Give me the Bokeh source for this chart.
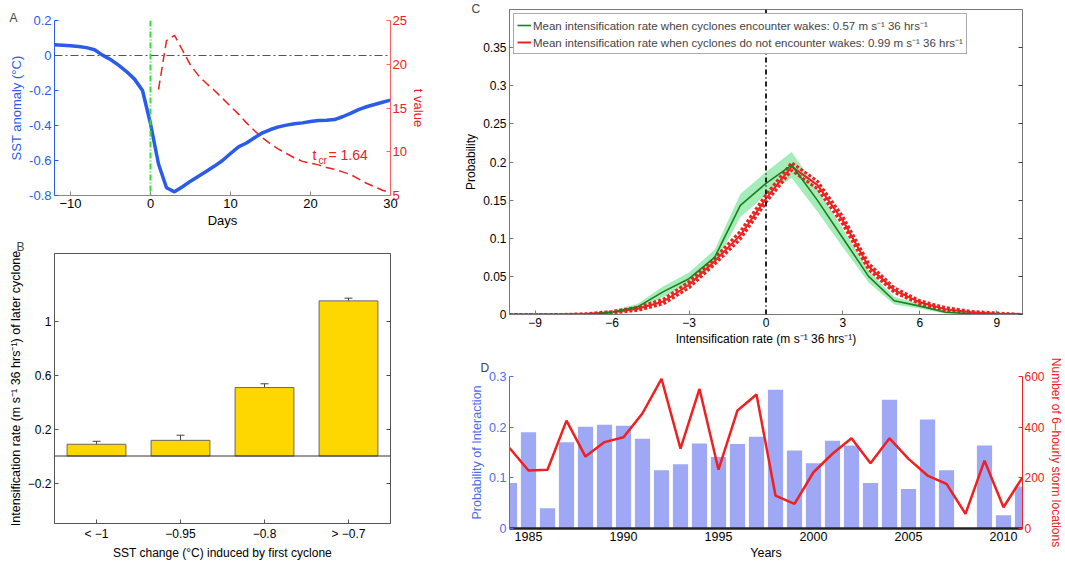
from bokeh.plotting import figure
from bokeh.models import (LinearAxis, Range1d, FixedTicker, CustomJSTickFormatter,
                          Label, Whisker, ColumnDataSource, Legend, LegendItem, Span, TeeHead)
from bokeh.layouts import row, column
from bokeh.embed import file_html
from bokeh.resources import INLINE

# ---------------- data ----------------
# Panel A
a_days = list(range(-12, 31))
a_sst = [0.062, 0.059, 0.056, 0.051, 0.045, 0.033, 0.002, -0.023, -0.055, -0.092,
         -0.135, -0.2, -0.39, -0.62, -0.756, -0.779, -0.75, -0.718, -0.69, -0.661,
         -0.632, -0.6, -0.56, -0.522, -0.5, -0.47, -0.442, -0.423, -0.408, -0.398,
         -0.39, -0.385, -0.377, -0.371, -0.37, -0.366, -0.35, -0.331, -0.309, -0.293,
         -0.28, -0.267, -0.255]
a_t_days = list(range(1, 31))
a_t_val = [17.1, 22.7, 23.3, 21.6, 19.9, 18.7, 17.8, 17.0, 16.1, 15.2,
           14.3, 13.3, 12.4, 11.6, 10.9, 10.3, 9.8, 9.3, 8.9, 8.7,
           8.5, 8.2, 8.0, 7.7, 7.4, 6.9, 6.4, 6.0, 5.6, 5.3]
a_tcr = "= 1.64"

# Panel B
b_pos = [1, 2, 3, 4]
b_labels = ["< \u22121", "\u22120.95", "\u22120.8", "> \u22120.7"]
b_rate = [0.087, 0.116, 0.507, 1.149]
b_err = [0.022, 0.038, 0.028, 0.02]

# Panel C
c_rate = list(range(-10, 11))
c_wake = [0, 0, 0, 0, 0.003, 0.01, 0.03, 0.047, 0.075, 0.143, 0.172,
          0.196, 0.15, 0.1, 0.05, 0.018, 0.011, 0.003, 0.001, 0, 0]
c_wake_band = [0.001, 0.001, 0.001, 0.001, 0.002, 0.004, 0.007, 0.008, 0.01, 0.015, 0.015,
               0.017, 0.015, 0.012, 0.008, 0.005, 0.003, 0.002, 0.001, 0.001, 0.001]
c_nowake = [0, 0, 0, 0.0005, 0.003, 0.0075, 0.017, 0.039, 0.07, 0.104, 0.152,
            0.194, 0.17, 0.123, 0.063, 0.032, 0.016, 0.007, 0.003, 0.001, 0]
c_nowake_err = [0, 0, 0, 0.0005, 0.001, 0.002, 0.003, 0.004, 0.004, 0.005, 0.005,
                0.005, 0.005, 0.005, 0.004, 0.003, 0.002, 0.002, 0.001, 0.001, 0]
c_leg_wake = "Mean intensification rate when cyclones encounter wakes: 0.57 m s\u207b\u00b9 36 hrs\u207b\u00b9"
c_leg_nowake = "Mean intensification rate when cyclones do not encounter wakes: 0.99 m s\u207b\u00b9 36 hrs\u207b\u00b9"

# Panel D
d_years = list(range(1984, 2012))
d_prob = [0.09, 0.19, 0.04, 0.17, 0.201, 0.205, 0.203, 0.177, 0.115, 0.127,
          0.168, 0.141, 0.167, 0.181, 0.274, 0.154, 0.129, 0.173, 0.164, 0.09,
          0.254, 0.078, 0.215, 0.115, 0.0, 0.164, 0.026, 0.083]
d_count = [318, 229, 232, 426, 284, 341, 360, 455, 591, 315,
           551, 232, 466, 529, 130, 97, 222, 295, 356, 258,
           356, 275, 209, 176, 58, 268, 84, 202]

# ---------------- style helpers ----------------
TXT = "Liberation Sans"
BLUE = "#2a5bea"
RED = "#ee2020"
FMT = CustomJSTickFormatter(code="return Number(tick.toFixed(3)).toString()")
FMT_M = CustomJSTickFormatter(code="return Number(tick.toFixed(3)).toString().replace('-', '\\u2212')")
BLANK = CustomJSTickFormatter(code="return ''")


def style_axis(ax, size="13px", color="black", line_color="black"):
    ax.major_label_text_font = TXT
    ax.major_label_text_font_size = size
    ax.major_label_text_color = color
    ax.axis_label_text_font = TXT
    ax.axis_label_text_font_size = size
    ax.axis_label_text_font_style = "normal"
    ax.axis_label_text_color = color
    ax.axis_line_color = line_color
    ax.major_tick_line_color = line_color
    ax.minor_tick_line_color = None
    ax.major_tick_in = 4
    ax.major_tick_out = 0
    ax.major_label_standoff = 3
    ax.axis_label_standoff = 2


def blank_axis(p, side, ticker):
    ax = LinearAxis(ticker=ticker, formatter=BLANK)
    ax.axis_line_color = None
    ax.major_tick_in = 4
    ax.major_tick_out = 0
    ax.minor_tick_line_color = None
    ax.major_label_standoff = 0
    ax.major_tick_line_color = "#444"
    p.add_layout(ax, side)


def panel_letter(p, text, offset, standoff):
    p.title.text = text
    p.title.align = "left"
    p.title.offset = offset
    p.title.standoff = standoff
    p.title.text_font = TXT
    p.title.text_font_size = "12px"
    p.title.text_font_style = "normal"


# ---------------- Panel A ----------------
fa = figure(width=460, height=230, x_range=Range1d(-12, 30), y_range=Range1d(-0.8, 0.2),
            output_backend="svg", toolbar_location=None,
            min_border_left=54, min_border_right=70, min_border_top=20, min_border_bottom=34)
fa.outline_line_color = None
fa.grid.visible = False
fa.extra_y_ranges = {"t": Range1d(5, 25)}
fa.add_layout(Span(location=0, dimension="width", line_color="#555555", line_width=1,
                   line_dash="8 3 2 3"))
fa.add_layout(Span(location=0, dimension="height", line_color="#33dd33", line_width=2,
                   line_dash="6 2 1 2"))
fa.line(a_t_days, a_t_val, y_range_name="t", line_color=RED, line_width=1.5, line_dash="9 5")
fa.line(a_days, a_sst, line_color=BLUE, line_width=3.5)

fa.xaxis.ticker = FixedTicker(ticks=[-10, 0, 10, 20, 30])
fa.xaxis.axis_label = "Days"
style_axis(fa.xaxis[0], "13px", "black", "#888888")
fa.yaxis.ticker = FixedTicker(ticks=[-0.8, -0.6, -0.4, -0.2, 0, 0.2])
fa.yaxis.formatter = FMT
fa.yaxis.axis_label = "SST anomaly (\u00b0C)"
style_axis(fa.yaxis[0], "13px", BLUE, BLUE)
ra = LinearAxis(y_range_name="t", ticker=FixedTicker(ticks=[5, 10, 15, 20, 25]),
                axis_label="t value")
style_axis(ra, "13px", RED, "#ff6060")
ra.major_label_standoff = 2
ra.axis_label_standoff = 1
fa.add_layout(ra, "right")

for txt, dx, dy, sz in [("t", 0, 0, "14px"), ("cr", 6, -6, "10px"), (a_tcr, 16, 0, "14px")]:
    fa.add_layout(Label(x=20.25, y=-0.567, text=txt, x_offset=dx, y_offset=dy,
                        text_color=RED, text_font=TXT, text_font_size=sz,
                        text_baseline="middle", text_align="left"))
panel_letter(fa, "A", -45, -8)

# ---------------- Panel B ----------------
fb = figure(width=460, height=332, x_range=Range1d(0.5, 4.5), y_range=Range1d(-0.5, 1.5),
            output_backend="svg", toolbar_location=None,
            min_border_left=47, min_border_right=66, min_border_top=23, min_border_bottom=34)
fb.grid.visible = False
fb.outline_line_color = "#555555"
fb.vbar(x=b_pos, top=b_rate, bottom=0, width=0.7, fill_color="#FFD700", line_color="#666666")
fb.add_layout(Span(location=0, dimension="width", line_color="#333333", line_width=1))
bsrc = ColumnDataSource(dict(x=b_pos, up=[r + e for r, e in zip(b_rate, b_err)],
                             lo=[r - e for r, e in zip(b_rate, b_err)]))
fb.add_layout(Whisker(base="x", upper="up", lower="lo", source=bsrc, line_color="#444444",
                      upper_head=TeeHead(size=8, line_color="#444444"),
                      lower_head=TeeHead(size=8, line_color="#444444")))
fb.xaxis.ticker = FixedTicker(ticks=b_pos)
fb.xaxis.major_label_overrides = {p: l for p, l in zip(b_pos, b_labels)}
fb.xaxis.axis_label = "SST change (\u00b0C) induced by first cyclone"
style_axis(fb.xaxis[0], "12px", "black", "#555555")
fb.yaxis.ticker = FixedTicker(ticks=[-0.2, 0.2, 0.6, 1.0])
fb.yaxis.formatter = FMT_M
fb.yaxis.axis_label = "Intensification rate (m s\u207b\u00b9 36 hrs\u207b\u00b9) of later cyclone"
style_axis(fb.yaxis[0], "12.5px", "black", "#555555")
fb.yaxis.major_label_text_font_size = "12px"
blank_axis(fb, "right", FixedTicker(ticks=[-0.2, 0.2, 0.6, 1.0]))
panel_letter(fb, "B", -38, 0)

# ---------------- Panel C ----------------
fc = figure(width=605, height=350, x_range=Range1d(-10, 10), y_range=Range1d(0, 0.4),
            output_backend="svg", toolbar_location=None,
            min_border_left=49, min_border_right=37, min_border_top=9, min_border_bottom=36)
fc.grid.visible = False
fc.outline_line_color = "#777777"
fc.varea(x=c_rate, y1=[v - b for v, b in zip(c_wake, c_wake_band)],
         y2=[v + b for v, b in zip(c_wake, c_wake_band)], fill_color="#8de8a8", fill_alpha=0.8)
fc.add_layout(Span(location=0, dimension="height", line_color="#222222", line_width=2,
                   line_dash="5 3 1 3"))
fc.line(c_rate, [v - e for v, e in zip(c_nowake, c_nowake_err)], line_color=RED, line_width=3, line_dash="3 2")
fc.line(c_rate, [v + e for v, e in zip(c_nowake, c_nowake_err)], line_color=RED, line_width=3, line_dash="3 2")
rn = fc.line(c_rate, c_nowake, line_color=RED, line_width=2)
rw = fc.line(c_rate, c_wake, line_color="#1a801a", line_width=1.6)
leg = Legend(items=[LegendItem(label=c_leg_wake, renderers=[rw]),
                    LegendItem(label=c_leg_nowake, renderers=[rn])],
             location="top_left")
leg.margin = 4
leg.padding = 3
leg.spacing = 1
leg.glyph_width = 14
leg.label_standoff = 2
leg.label_height = 16
leg.glyph_height = 16
leg.label_text_font = TXT
leg.label_text_font_size = "11.5px"
leg.border_line_color = "#555555"
leg.background_fill_alpha = 1
fc.add_layout(leg)
fc.xaxis.ticker = FixedTicker(ticks=[-9, -6, -3, 0, 3, 6, 9])
fc.xaxis.formatter = FMT_M
fc.xaxis.axis_label = "Intensification rate (m s\u207b\u00b9 36 hrs\u207b\u00b9)"
style_axis(fc.xaxis[0], "12px", "black", "#777777")
fc.yaxis.ticker = FixedTicker(ticks=[0, 0.05, 0.1, 0.15, 0.2, 0.25, 0.3, 0.35])
fc.yaxis.formatter = FMT
fc.yaxis.axis_label = "Probability"
style_axis(fc.yaxis[0], "12px", "black", "#777777")
blank_axis(fc, "right", FixedTicker(ticks=[0, 0.05, 0.1, 0.15, 0.2, 0.25, 0.3, 0.35]))
panel_letter(fc, "C", -38, -12)

# ---------------- Panel D ----------------
fd = figure(width=605, height=212, x_range=Range1d(1984, 2011), y_range=Range1d(0, 0.3),
            output_backend="svg", toolbar_location=None,
            min_border_left=49, min_border_right=37, min_border_top=26, min_border_bottom=34)
fd.grid.visible = False
fd.outline_line_color = None
fd.extra_y_ranges = {"n": Range1d(0, 600)}
fd.vbar(x=d_years, top=d_prob, width=0.8, fill_color="#9ea8f5", line_color=None)
fd.line(d_years, d_count, y_range_name="n", line_color=RED, line_width=2.5)
fd.xaxis.ticker = FixedTicker(ticks=[1985, 1990, 1995, 2000, 2005, 2010])
fd.xaxis.axis_label = "Years"
style_axis(fd.xaxis[0], "12.5px", "black", "#222222")
fd.xaxis.axis_line_width = 2.5
fd.xaxis.major_tick_line_color = None
fd.yaxis.ticker = FixedTicker(ticks=[0, 0.1, 0.2, 0.3])
fd.yaxis.formatter = FMT
fd.yaxis.axis_label = "Probability of Interaction"
style_axis(fd.yaxis[0], "12.5px", "#4f6cf0", "#4f6cf0")
rd = LinearAxis(y_range_name="n", ticker=FixedTicker(ticks=[0, 200, 400, 600]),
                axis_label="Number of 6\u2013hourly storm locations")
style_axis(rd, "12px", RED, RED)
rd.major_label_standoff = 2
rd.axis_label_standoff = 1
fd.add_layout(rd, "right")
panel_letter(fd, "D", -29, 4)

layout = row(column(fa, fb), column(fc, fd))
open("out.html", "w").write(file_html(layout, INLINE))
